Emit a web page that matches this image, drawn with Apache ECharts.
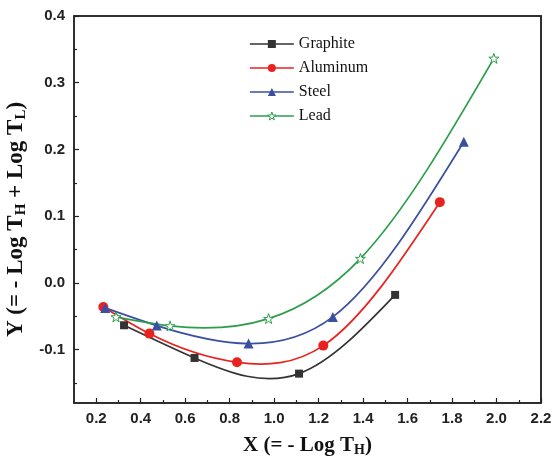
<!DOCTYPE html>
<html>
<head>
<meta charset="utf-8">
<script src="https://cdn.jsdelivr.net/npm/echarts@6/dist/echarts.min.js"></script>
<style>
  html, body { margin: 0; padding: 0; background: #fff; }
  #chart { width: 553px; height: 462px; }
</style>
</head>
<body>
<div id="chart"></div>
<script>
// Measured points for each material: X = -log T_H, Y = -log T_H + log T_L
const seriesNames = ['Graphite', 'Aluminum', 'Steel', 'Lead'];

const graphiteX = [0.325, 0.642, 1.112, 1.544];
const graphiteY = [-0.0635, -0.1125, -0.136, -0.018];

const aluminumX = [0.232, 0.439, 0.833, 1.221, 1.745];
const aluminumY = [-0.036, -0.076, -0.119, -0.094, 0.121];

const steelX = [0.240, 0.472, 0.885, 1.264, 1.853];
const steelY = [-0.0375, -0.064, -0.091, -0.051, 0.2115];

const leadX = [0.289, 0.532, 0.975, 1.388, 1.988];
const leadY = [-0.051, -0.0645, -0.0535, 0.0365, 0.3365];

// Axis tick positions
const xMajorTicks = [0.2, 0.4, 0.6, 0.8, 1.0, 1.2, 1.4, 1.6, 1.8, 2.0, 2.2];
const xMinorTicks = [0.3, 0.5, 0.7, 0.9, 1.1, 1.3, 1.5, 1.7, 1.9, 2.1];
const yMajorTicks = [-0.1, 0.0, 0.1, 0.2, 0.3, 0.4];
const yMinorTicks = [-0.15, -0.05, 0.05, 0.15, 0.25, 0.35];

const xs = [graphiteX, aluminumX, steelX, leadX];
const ys = [graphiteY, aluminumY, steelY, leadY];
const pairs = (a, b) => a.map((x, i) => [x, b[i]]);

const starPath = 'path://M50,2 L61.8,36.2 L97.6,36.2 L68.6,57.4 L79.6,91.6 L50,70.4 L20.4,91.6 L31.4,57.4 L2.4,36.2 L38.2,36.2 Z';

const colors = ['#333333', '#e8231f', '#3a4fa0', '#2c9e4b'];
const symbols = ['rect', 'circle', 'triangle', starPath];
const symbolSizes = [8, 10, 10, 10];

// Natural cubic spline slopes (dy/dx) at each point, used to shape the
// connecting curve as a chain of cubic Bezier segments.
function splineSlopes(x, y) {
  const n = x.length;
  const h = [];
  for (let i = 0; i < n - 1; i++) h.push(x[i + 1] - x[i]);
  const M = new Array(n).fill(0);
  if (n > 2) {
    const m = n - 2;
    const a = [], b = [], c = [], d = [];
    for (let i = 1; i <= m; i++) {
      a.push(h[i - 1]);
      b.push(2 * (h[i - 1] + h[i]));
      c.push(h[i]);
      d.push(6 * ((y[i + 1] - y[i]) / h[i] - (y[i] - y[i - 1]) / h[i - 1]));
    }
    for (let i = 1; i < m; i++) {
      const w = a[i] / b[i - 1];
      b[i] -= w * c[i - 1];
      d[i] -= w * d[i - 1];
    }
    const sol = new Array(m);
    sol[m - 1] = d[m - 1] / b[m - 1];
    for (let i = m - 2; i >= 0; i--) sol[i] = (d[i] - c[i] * sol[i + 1]) / b[i];
    for (let i = 0; i < m; i++) M[i + 1] = sol[i];
  }
  const s = [];
  for (let i = 0; i < n - 1; i++) {
    s.push((y[i + 1] - y[i]) / h[i] - h[i] * (2 * M[i] + M[i + 1]) / 6);
  }
  s.push((y[n - 1] - y[n - 2]) / h[n - 2] + h[n - 2] * (M[n - 2] + 2 * M[n - 1]) / 6);
  return s;
}

function curveRenderer(k) {
  const x = xs[k], y = ys[k];
  const slopes = splineSlopes(x, y);
  return function (params, api) {
    if (params.dataIndex !== 0) return null;
    const children = [];
    for (let i = 0; i < x.length - 1; i++) {
      const hh = x[i + 1] - x[i];
      const p0 = api.coord([x[i], y[i]]);
      const p1 = api.coord([x[i] + hh / 3, y[i] + slopes[i] * hh / 3]);
      const p2 = api.coord([x[i + 1] - hh / 3, y[i + 1] - slopes[i + 1] * hh / 3]);
      const p3 = api.coord([x[i + 1], y[i + 1]]);
      children.push({
        type: 'bezierCurve',
        shape: { x1: p0[0], y1: p0[1], cpx1: p1[0], cpy1: p1[1], cpx2: p2[0], cpy2: p2[1], x2: p3[0], y2: p3[1] },
        style: { stroke: colors[k], lineWidth: 1.7, fill: null }
      });
    }
    return { type: 'group', children };
  };
}

const curveSeries = seriesNames.map((name, k) => ({
  name: name + ' curve',
  type: 'custom',
  coordinateSystem: 'cartesian2d',
  data: pairs(xs[k], ys[k]),
  encode: { x: 0, y: 1 },
  renderItem: curveRenderer(k),
  silent: true,
  z: 2
}));

const markerSeries = seriesNames.map((name, k) => ({
  name,
  type: 'line',
  data: pairs(xs[k], ys[k]),
  symbol: symbols[k],
  symbolSize: symbolSizes[k],
  showAllSymbol: true,
  lineStyle: { color: colors[k], width: 1.7, opacity: 0 },
  itemStyle: k === 3
    ? { color: '#ffffff', borderColor: colors[k], borderWidth: 1 }
    : { color: colors[k], borderWidth: 0 },
  z: 3
}));

const X_MIN = 0.1, X_MAX = 2.2, Y_MIN = -0.18, Y_MAX = 0.4;
const axisColor = '#222';
const labelFont = { fontFamily: 'Liberation Sans, Arial', fontWeight: 'bold', fontSize: 15, color: '#222' };
const serif = 'Liberation Serif, Times New Roman';
const xNameRich = {
  t: { fontFamily: serif, fontWeight: 'bold', fontSize: 21, color: '#111' },
  s: { fontFamily: serif, fontWeight: 'bold', fontSize: 14, color: '#111', verticalAlign: 'bottom', padding: [9, 0, 0, 0] }
};
const yNameRich = {
  t: { fontFamily: serif, fontWeight: 'bold', fontSize: 23, color: '#111' },
  s: { fontFamily: serif, fontWeight: 'bold', fontSize: 15, color: '#111', verticalAlign: 'bottom', padding: [10, 0, 0, 0] }
};

const chart = echarts.init(document.getElementById('chart'), null, { renderer: 'canvas' });

chart.setOption({
  animation: false,
  backgroundColor: '#fff',
  grid: {
    left: 74, right: 12, top: 16, bottom: 59,
    outerBoundsMode: 'none',
    show: true, borderColor: axisColor, borderWidth: 1.5, backgroundColor: 'transparent'
  },
  legend: {
    orient: 'vertical',
    left: 244,
    top: 31,
    itemWidth: 44,
    itemHeight: 10,
    itemGap: 8,
    textStyle: { fontFamily: serif, fontSize: 16, color: '#111' },
    data: seriesNames.map((name, k) => ({
      name,
      lineStyle: { color: colors[k], width: 1.7, opacity: 1 },
      itemStyle: k === 3
        ? { color: '#ffffff', borderColor: colors[k], borderWidth: 1 }
        : { color: colors[k], borderWidth: 0 }
    }))
  },
  xAxis: [
    {
      type: 'value', min: X_MIN, max: X_MAX, position: 'bottom',
      name: '{t|X (= - Log T}{s|H}{t|)}',
      nameLocation: 'middle', nameGap: 31,
      nameTextStyle: { rich: xNameRich },
      axisLine: { show: true, onZero: false, lineStyle: { color: axisColor, width: 1.5 } },
      axisTick: { show: true, inside: true, length: 5, customValues: xMajorTicks, lineStyle: { color: axisColor, width: 1.2 } },
      axisLabel: Object.assign({ margin: 8, customValues: xMajorTicks, formatter: v => v.toFixed(1) }, labelFont),
      splitLine: { show: false }
    },
    {
      type: 'value', min: X_MIN, max: X_MAX, position: 'bottom',
      axisLine: { show: false, onZero: false },
      axisTick: { show: true, inside: true, length: 3, customValues: xMinorTicks, lineStyle: { color: axisColor, width: 1.2 } },
      axisLabel: { show: false, customValues: xMinorTicks },
      splitLine: { show: false }
    },
    {
      type: 'value', min: X_MIN, max: X_MAX, position: 'top',
      axisLine: { show: true, onZero: false, lineStyle: { color: axisColor, width: 1.5 } },
      axisTick: { show: false },
      axisLabel: { show: false },
      splitLine: { show: false }
    }
  ],
  yAxis: [
    {
      type: 'value', min: Y_MIN, max: Y_MAX, position: 'left',
      name: '{t|Y (= - Log T}{s|H}{t| + Log T}{s|L}{t|)}',
      nameLocation: 'middle', nameGap: 41, nameRotate: 90,
      nameTextStyle: { rich: yNameRich, padding: [0, 20, 0, 0] },
      axisLine: { show: true, onZero: false, lineStyle: { color: axisColor, width: 1.5 } },
      axisTick: { show: true, inside: true, length: 5, customValues: yMajorTicks, lineStyle: { color: axisColor, width: 1.2 } },
      axisLabel: Object.assign({ margin: 9, customValues: yMajorTicks, formatter: v => v.toFixed(1) }, labelFont),
      splitLine: { show: false }
    },
    {
      type: 'value', min: Y_MIN, max: Y_MAX, position: 'left',
      axisLine: { show: false, onZero: false },
      axisTick: { show: true, inside: true, length: 3, customValues: yMinorTicks, lineStyle: { color: axisColor, width: 1.2 } },
      axisLabel: { show: false, customValues: yMinorTicks },
      splitLine: { show: false }
    },
    {
      type: 'value', min: Y_MIN, max: Y_MAX, position: 'right',
      axisLine: { show: true, onZero: false, lineStyle: { color: axisColor, width: 1.5 } },
      axisTick: { show: false },
      axisLabel: { show: false },
      splitLine: { show: false }
    }
  ],
  series: curveSeries.concat(markerSeries)
});
</script>
</body>
</html>
